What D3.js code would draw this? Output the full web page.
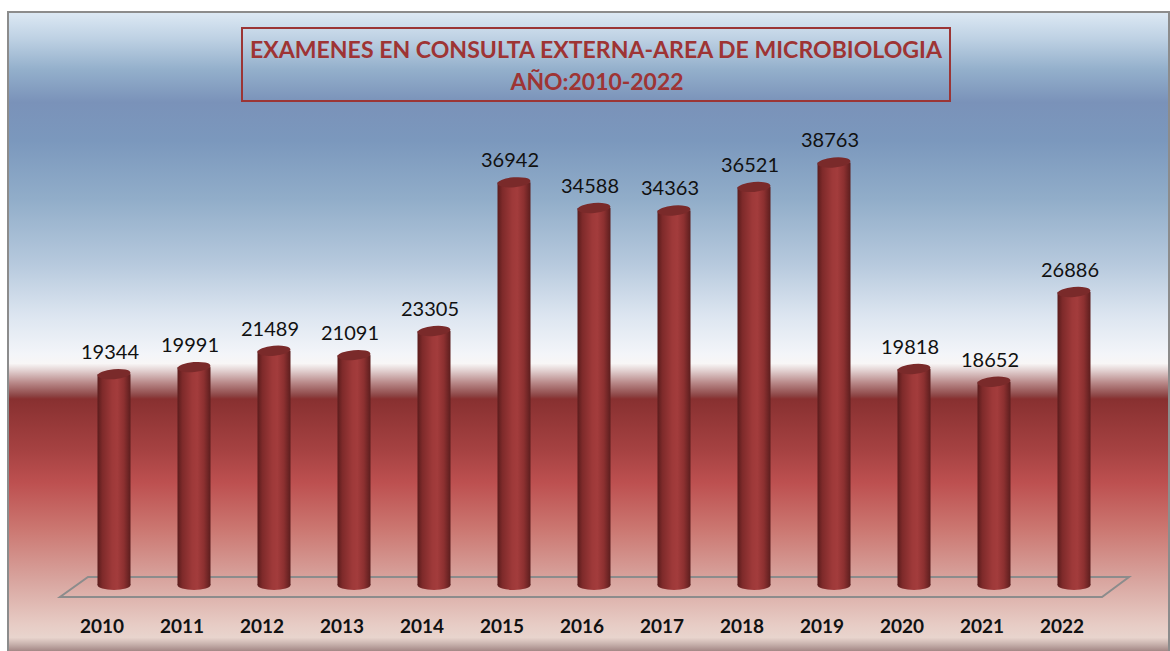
<!DOCTYPE html>
<html>
<head>
<meta charset="utf-8">
<script src="https://cdn.jsdelivr.net/npm/d3@7.9.0/dist/d3.min.js"></script>
<style>
  body { margin: 0; background: #fff; }
  svg { display: block; }
</style>
</head>
<body>
<svg id="chart" width="1170" height="651"></svg>
<script>
const years = ['2010', '2011', '2012', '2013', '2014', '2015', '2016', '2017', '2018', '2019', '2020', '2021', '2022'];
const examenes = [19344, 19991, 21489, 21091, 23305, 36942, 34588, 34363, 36521, 38763, 19818, 18652, 26886];
const titleLines = ['EXAMENES EN CONSULTA EXTERNA-AREA DE MICROBIOLOGIA', 'AÑO:2010-2022'];

const svg = d3.select('#chart');
const defs = svg.append('defs');

// background bands (blue sky over red floor)
const bg = defs.append('linearGradient')
  .attr('id', 'bg').attr('x1', 0).attr('y1', 0).attr('x2', 0).attr('y2', 1);
const bgStops = [
  [0, '#dde9f4'], [0.04, '#bfd2e4'], [0.09, '#93afcb'], [0.14, '#7a92b9'],
  [0.2, '#7b98bd'], [0.29, '#91adc9'], [0.39, '#b6c9dd'], [0.47, '#dce5f0'],
  [0.53, '#f3f5f9'], [0.545, '#f8f6f6'], [0.555, '#e4d4d4'], [0.575, '#b88888'],
  [0.595, '#8c4444'], [0.6, '#883030'], [0.68, '#a64242'], [0.73, '#bd5050'],
  [0.8, '#cb7670'], [0.88, '#d8a49e'], [0.95, '#e7ccc5'], [0.97, '#e8d4cd'],
  [0.98, '#c8b2ad'], [0.99, '#a68a88'], [1, '#967474']
];
bgStops.forEach(([o, c]) => bg.append('stop').attr('offset', o).attr('stop-color', c));

// cylinder side shading
const cyl = defs.append('linearGradient')
  .attr('id', 'cyl').attr('x1', 0).attr('y1', 0).attr('x2', 1).attr('y2', 0);
[[0, '#5a1c1c'], [0.15, '#7e2a2a'], [0.45, '#9e3939'], [0.6, '#a33c3c'],
 [0.8, '#8c3030'], [1, '#5c1e1e']]
  .forEach(([o, c]) => cyl.append('stop').attr('offset', o).attr('stop-color', c));

svg.append('rect')
  .attr('x', 8).attr('y', 12).attr('width', 1161).attr('height', 645)
  .attr('fill', 'url(#bg)')
  .attr('stroke', '#8c8c8c').attr('stroke-width', 2);

const x = d3.scaleBand().domain(years).range([74, 1114]).padding(0);
const y = d3.scaleLinear().domain([0, 40000]).range([585, 149]);

// floor
svg.append('path')
  .attr('d', 'M60,597 L1102,597 L1129,577 L88,577 Z')
  .attr('fill', 'none')
  .attr('stroke', '#8c8c8c').attr('stroke-width', 2);

const data = years.map((yr, i) => ({ year: yr, value: examenes[i] }));
const bw = 33, ry = 5;

const bars = svg.selectAll('g.bar').data(data).join('g').attr('class', 'bar');

bars.append('rect')
  .attr('x', (d) => x(d.year) + x.bandwidth() / 2 - bw / 2)
  .attr('y', (d) => y(d.value))
  .attr('width', bw)
  .attr('height', (d) => y(0) - y(d.value))
  .attr('fill', 'url(#cyl)');

bars.append('ellipse')
  .attr('cx', (d) => x(d.year) + x.bandwidth() / 2)
  .attr('cy', y(0))
  .attr('rx', bw / 2).attr('ry', ry)
  .attr('fill', 'url(#cyl)');

bars.append('ellipse')
  .attr('cx', (d) => x(d.year) + x.bandwidth() / 2)
  .attr('cy', (d) => y(d.value))
  .attr('rx', bw / 2).attr('ry', ry)
  .attr('transform', (d) => `rotate(-5 ${x(d.year) + x.bandwidth() / 2} ${y(d.value)})`)
  .attr('fill', '#7a2a2a');

bars.append('text')
  .attr('x', (d) => x(d.year) + x.bandwidth() / 2 - 4)
  .attr('y', (d) => y(d.value) - 15)
  .attr('text-anchor', 'middle')
  .attr('font-family', 'Lato, "Open Sans", sans-serif')
  .attr('font-size', 20)
  .attr('fill', '#111')
  .text((d) => d.value);

// year labels
svg.append('g').selectAll('text').data(years).join('text')
  .attr('x', (d) => x(d) + x.bandwidth() / 2 - 12)
  .attr('y', 633)
  .attr('text-anchor', 'middle')
  .attr('font-family', 'Lato, "Open Sans", sans-serif')
  .attr('font-weight', 'bold')
  .attr('font-size', 19)
  .attr('fill', '#111')
  .text((d) => d);

// title box
svg.append('rect')
  .attr('x', 242).attr('y', 28).attr('width', 708).attr('height', 73)
  .attr('fill', 'none')
  .attr('stroke', '#9b3535').attr('stroke-width', 2);

svg.append('text')
  .attr('x', 596).attr('y', 58)
  .attr('text-anchor', 'middle')
  .attr('font-family', 'Lato, "Open Sans", sans-serif')
  .attr('font-weight', 'bold')
  .attr('font-size', 22)
  .attr('fill', '#9e3434')
  .attr('textLength', 692).attr('lengthAdjust', 'spacingAndGlyphs')
  .text(titleLines[0]);

svg.append('text')
  .attr('x', 597).attr('y', 90)
  .attr('text-anchor', 'middle')
  .attr('font-family', 'Lato, "Open Sans", sans-serif')
  .attr('font-weight', 'bold')
  .attr('font-size', 22)
  .attr('fill', '#9e3434')
  .attr('textLength', 173).attr('lengthAdjust', 'spacingAndGlyphs')
  .text(titleLines[1]);
</script>
</body>
</html>
